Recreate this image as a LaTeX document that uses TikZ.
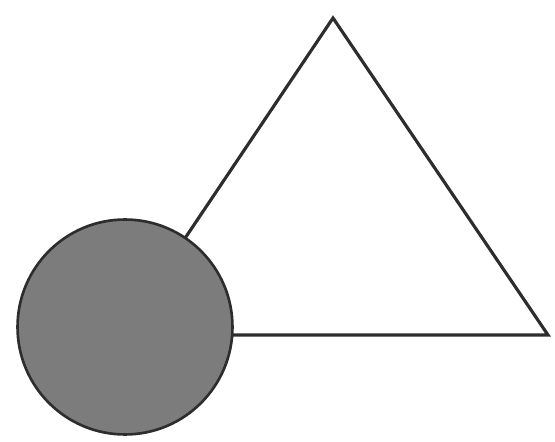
\documentclass[tikz,border=0pt]{standalone}
\usepackage{tikz}
\usetikzlibrary{positioning}
\definecolor{EdgeGray}{RGB}{45, 45, 45}
\definecolor{DiscGray}{RGB}{124, 124, 124}
\begin{document}
\begin{tikzpicture}[
        x=0.02cm, y=-0.02cm,
        % Shape Styles
        edge/.style={draw=EdgeGray, line width=1.8pt, line join=miter},
        disc/.style={circle, draw=EdgeGray, line width=1.5pt, fill=DiscGray, minimum size=4.3cm, inner sep=0pt}
    ]
    \useasboundingbox (0, 0) rectangle (555, 442);

    % --- TRIANGLE ---
    \coordinate (apex)  at (333, 18);
    \coordinate (left)  at (120, 335);
    \coordinate (right) at (548, 335);
    \draw[edge] (left) -- (apex) -- (right) -- cycle;

    % --- DISC ---
    \node[disc] (ball) at (125, 327) {};

\end{tikzpicture}
\end{document}
